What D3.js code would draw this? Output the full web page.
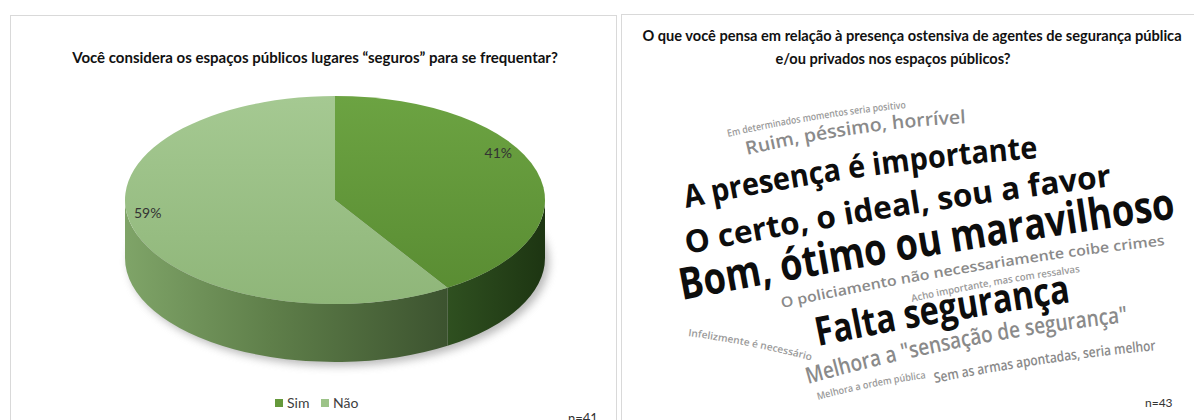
<!DOCTYPE html>
<html>
<head>
<meta charset="utf-8">
<script src="https://cdn.jsdelivr.net/npm/d3@7"></script>
<style>
  html, body { margin: 0; padding: 0; background: #fff; }
  svg { display: block; }
</style>
</head>
<body>
<svg id="chart" width="1194" height="420"></svg>
<script>
// left chart: answers in percent
var categories = ["Sim", "Não"],
    shares = [41, 59],
    leftTitle = "Você considera os espaços públicos lugares “seguros” para se frequentar?",
    leftN = "n=41";

// right chart: answers of the open question, weight = how often it came up (estimated)
var phrases = [
        "Bom, ótimo ou maravilhoso",
        "Falta segurança",
        "A  presença é importante",
        "O certo,  o ideal, sou a favor",
        "Melhora a \"sensação de segurança\"",
        "Ruim, péssimo, horrível",
        "O policiamento não necessariamente coibe crimes",
        "Sem as armas apontadas, seria melhor",
        "Infelizmente é necessário",
        "Acho importante, mas com ressalvas",
        "Melhora a ordem pública",
        "Em determinados momentos seria positivo"
    ],
    phraseWeights = [9, 8, 6, 6, 4, 3, 2, 2, 1, 1, 1, 1],
    rightTitle = [
        "O que você pensa em relação à presença ostensiva de agentes de segurança pública",
        "e/ou privados nos espaços públicos?"
    ],
    rightN = "n=43";

var svg = d3.select("#chart"),
    defs = svg.append("defs");

// panels
svg.append("rect").attr("x", 10.5).attr("y", 15.5).attr("width", 606).attr("height", 430)
    .attr("fill", "#fff").attr("stroke", "#d9d9d9");
svg.append("rect").attr("x", 621.5).attr("y", 14.5).attr("width", 600).attr("height", 430)
    .attr("fill", "#fff").attr("stroke", "#d9d9d9");

/* ---------- left: 3d pie ---------- */
var pieBox = { cx: 335, cy: 200, rx: 210, ry: 104, depth: 58 },
    topColor = d3.scaleOrdinal().domain(categories).range(["#65993b", "#9cc388"]);

function addGradient(id, x1, y1, x2, y2, stops) {
    var g = defs.append("linearGradient").attr("id", id)
        .attr("x1", x1).attr("y1", y1).attr("x2", x2).attr("y2", y2);
    stops.forEach(function (s) {
        g.append("stop").attr("offset", s[0]).attr("stop-color", s[1]);
    });
}
addGradient("topSim", 0, 0, 0, 1, [[0, "#6ca342"], [1, "#5a8d33"]]);
addGradient("topNao", 0, 0, 0, 1, [[0, "#a5c992"], [1, "#8fb679"]]);
addGradient("wallSim", 0, 0, 1, 0, [[0, "#2f5020"], [1, "#1d3512"]]);
addGradient("wallNao", 0, 0, 1, 0, [[0, "#7fa468"], [0.45, "#5f7f4a"], [1, "#3c532f"]]);

var blur = defs.append("filter").attr("id", "shadow").attr("x", "-20%").attr("y", "-40%")
    .attr("width", "140%").attr("height", "180%");
blur.append("feGaussianBlur").attr("stdDeviation", 4);

function pt(a, dy) {
    return [pieBox.cx + pieBox.rx * Math.sin(a), pieBox.cy - pieBox.ry * Math.cos(a) + (dy || 0)];
}

var arcs = d3.pie().sort(null).value(function (d) { return d; })(shares),
    pieG = svg.append("g");

// soft shadow under the pie
pieG.append("ellipse")
    .attr("cx", pieBox.cx + 4).attr("cy", pieBox.cy + pieBox.depth + 4)
    .attr("rx", pieBox.rx).attr("ry", pieBox.ry)
    .attr("fill", "#8a8a8a").attr("opacity", 0.6)
    .attr("filter", "url(#shadow)");

// outer walls, only the front half shows
arcs.forEach(function (d, i) {
    var b0 = Math.max(d.startAngle, Math.PI / 2),
        b1 = Math.min(d.endAngle, Math.PI * 3 / 2);
    if (b1 <= b0) return;
    var p0 = pt(b0), p1 = pt(b1), q1 = pt(b1, pieBox.depth), q0 = pt(b0, pieBox.depth);
    pieG.append("path")
        .attr("d", "M" + p0 + "A" + pieBox.rx + "," + pieBox.ry + " 0 0 1 " + p1 +
            "L" + q1 + "A" + pieBox.rx + "," + pieBox.ry + " 0 0 0 " + q0 + "Z")
        .attr("fill", i === 0 ? "url(#wallSim)" : "url(#wallNao)");
});

// top faces
arcs.forEach(function (d, i) {
    var p0 = pt(d.startAngle), p1 = pt(d.endAngle),
        large = d.endAngle - d.startAngle > Math.PI ? 1 : 0;
    pieG.append("path")
        .attr("d", "M" + pieBox.cx + "," + pieBox.cy + "L" + p0 +
            "A" + pieBox.rx + "," + pieBox.ry + " 0 " + large + " 1 " + p1 + "Z")
        .attr("fill", i === 0 ? "url(#topSim)" : "url(#topNao)");
});

// percent labels, placed inside each slice
var labelPos = [0.405, 0.54];
arcs.forEach(function (d, i) {
    var a = d.startAngle + (d.endAngle - d.startAngle) * labelPos[i],
        x = pieBox.cx + 0.9 * pieBox.rx * Math.sin(a),
        y = pieBox.cy - 0.9 * pieBox.ry * Math.cos(a);
    svg.append("text").attr("x", x).attr("y", y + 5)
        .attr("text-anchor", "middle")
        .style("font", "14px Lato, 'Open Sans', sans-serif").attr("fill", "#333")
        .text(d.data + "%");
});

svg.append("text").attr("x", 315).attr("y", 63).attr("text-anchor", "middle")
    .style("font", "bold 15px Lato, sans-serif").attr("fill", "#111")
    .text(leftTitle);

// legend
var legend = svg.append("g").attr("transform", "translate(275,399)");
var legendX = [0, 46];
categories.forEach(function (c, i) {
    legend.append("rect").attr("x", legendX[i]).attr("y", 0).attr("width", 8).attr("height", 8)
        .attr("fill", topColor(c));
    legend.append("text").attr("x", legendX[i] + 12).attr("y", 9)
        .style("font", "14px Lato, sans-serif").attr("fill", "#404040").text(c);
});

svg.append("text").attr("x", 568).attr("y", 423)
    .style("font", "13px Lato, sans-serif").attr("fill", "#333").text(leftN);

/* ---------- right: word cloud ---------- */
rightTitle.forEach(function (t, i) {
    svg.append("text").attr("x", i === 0 ? 912 : 893).attr("y", 41 + i * 23)
        .attr("text-anchor", "middle")
        .style("font", "bold 14.6px Lato, sans-serif").attr("fill", "#111")
        .text(t);
});

var sizeScale = d3.scaleLinear().domain([1, 9]).range([10, 44]),
    colorScale = d3.scaleThreshold().domain([2, 5]).range(["#9a9a9a", "#8a8a8a", "#0d0d0d"]);

// baseline of each phrase: start, end, bow upward in px
var cloudLayout = [
    [682, 300, 1178, 218, 3],
    [818, 346, 1073, 302, 2],
    [686, 208, 1040, 158, 6],
    [687, 254, 1114, 186, 4],
    [808, 384, 1130, 322, 7],
    [747, 155, 968, 123, 5],
    [782, 308, 1167, 245, 5],
    [935, 383, 1158, 350, 3],
    [688, 336, 813, 361, 2],
    [912, 302, 1082, 272, 2],
    [818, 400, 928, 378, 2],
    [728, 137, 908, 108, 3]
];

var cloud = svg.append("g");
phrases.forEach(function (p, i) {
    var l = cloudLayout[i],
        mx = (l[0] + l[2]) / 2, my = (l[1] + l[3]) / 2,
        dx = l[2] - l[0], dy = l[3] - l[1],
        len = Math.sqrt(dx * dx + dy * dy),
        nx = dy / len, ny = -dx / len,
        cx = mx + nx * 2 * l[4], cy = my + ny * 2 * l[4];
    defs.append("path").attr("id", "phrase" + i)
        .attr("d", "M" + l[0] + "," + l[1] + "Q" + cx + "," + cy + " " + l[2] + "," + l[3]);
    var pathLen = document.getElementById("phrase" + i).getTotalLength();
    cloud.append("text")
        .style("font-family", "'Open Sans', sans-serif")
        .style("font-weight", phraseWeights[i] >= 5 ? 700 : 600)
        .style("font-size", sizeScale(phraseWeights[i]) + "px")
        .attr("fill", colorScale(phraseWeights[i]))
        .append("textPath")
        .attr("href", "#phrase" + i)
        .attr("textLength", pathLen - 2)
        .attr("lengthAdjust", "spacingAndGlyphs")
        .text(p);
});

svg.append("text").attr("x", 1145).attr("y", 407)
    .style("font", "12px Lato, sans-serif").attr("fill", "#333").text(rightN);
</script>
</body>
</html>
